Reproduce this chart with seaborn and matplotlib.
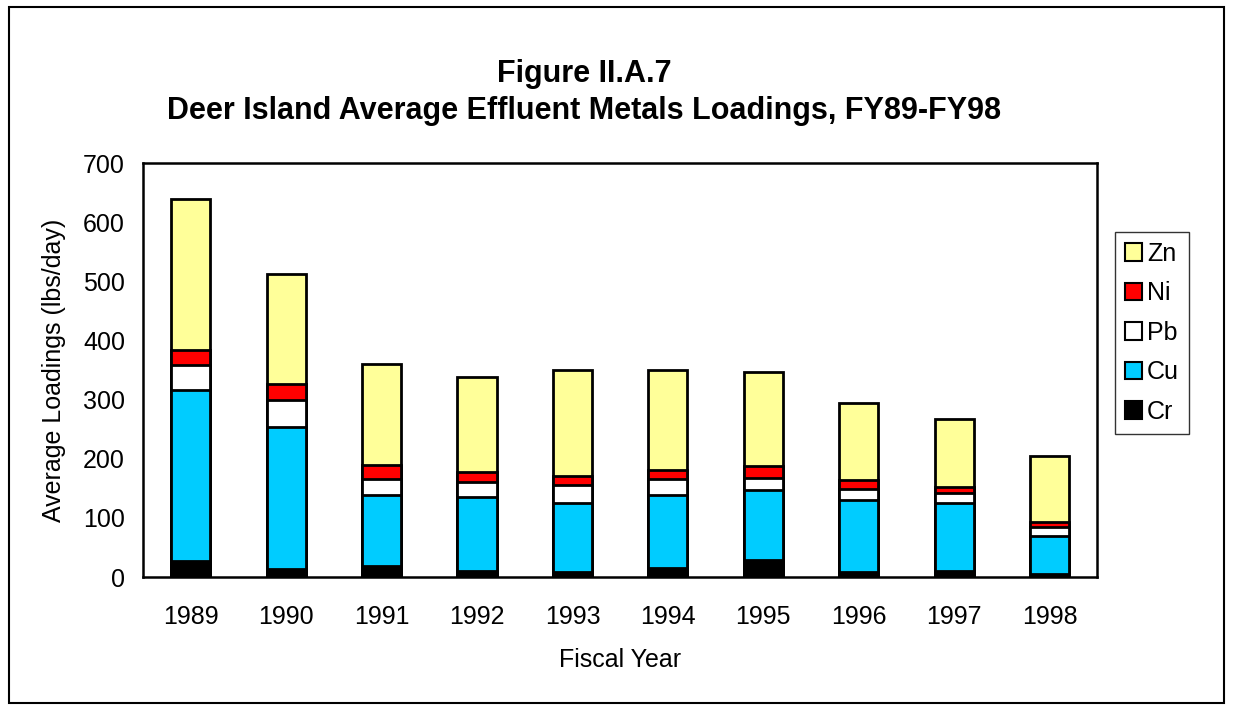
import matplotlib

matplotlib.use("Agg")
import matplotlib.pyplot as plt
import numpy as np
import pandas as pd
import seaborn as sns
from matplotlib.patches import Patch, Rectangle

years = ["1989", "1990", "1991", "1992", "1993", "1994", "1995", "1996", "1997", "1998"]
cr = [28, 13, 19, 11, 8, 16, 29, 9, 11, 6]
cu = [288, 240, 120, 125, 118, 122, 119, 121, 114, 64]
pb = [43, 47, 27, 24, 29, 28, 20, 19, 18, 14]
ni = [25, 27, 24, 18, 16, 15, 20, 15, 9, 9]
zn = [256, 186, 170, 160, 180, 170, 159, 130, 115, 111]

metals = ["Cr", "Cu", "Pb", "Ni", "Zn"]
colors = {"Cr": "#000000", "Cu": "#00CCFF", "Pb": "#FFFFFF", "Ni": "#FF0000", "Zn": "#FFFF99"}

df = pd.DataFrame({"Year": years, "Cr": cr, "Cu": cu, "Pb": pb, "Ni": ni, "Zn": zn})
cum = df[metals].cumsum(axis=1)

sns.set_style("white")
plt.rcParams["font.family"] = ["Liberation Sans", "DejaVu Sans"]
plt.rcParams["text.color"] = "black"
plt.rcParams["axes.labelcolor"] = "black"
plt.rcParams["xtick.color"] = "black"
plt.rcParams["ytick.color"] = "black"

fig = plt.figure(figsize=(12.33, 7.09), dpi=100)
ax = fig.add_axes([0.116, 0.186, 0.774, 0.584])

# draw cumulative totals from the top layer down so each hides the rest
for metal in reversed(metals):
    sns.barplot(x=df["Year"], y=cum[metal], color=colors[metal], saturation=1,
                edgecolor="black", linewidth=2, width=0.41, errorbar=None, ax=ax)

ax.set_xlim(-0.5, len(years) - 0.5)
ax.set_ylim(0, 700)
ax.set_yticks(np.arange(0, 701, 100))
ax.set_xlabel("Fiscal Year", fontsize=18, labelpad=14)
ax.set_ylabel("Average Loadings (lbs/day)", fontsize=18, labelpad=12)
ax.tick_params(axis="y", direction="inout", length=10, width=1.5, labelsize=18, pad=8)
ax.tick_params(axis="x", which="major", length=0, labelsize=18, pad=20)
ax.set_xticks(np.arange(0.5, len(years) - 0.5), minor=True)
ax.tick_params(axis="x", which="minor", direction="in", length=7, width=1.5)
for s in ax.spines.values():
    s.set_color("black")
    s.set_linewidth(1.8)

fig.text(0.474, 0.87, "Figure II.A.7\nDeer Island Average Effluent Metals Loadings, FY89-FY98",
         ha="center", va="center", fontsize=22, fontweight="bold", linespacing=1.3)

handles = [Patch(facecolor=colors[m], edgecolor="black", linewidth=1.5, label=m) for m in reversed(metals)]
leg = fig.legend(handles=handles, loc="upper left", bbox_to_anchor=(0.904, 0.673),
                 fontsize=18, frameon=True, fancybox=False, handlelength=0.7, handleheight=0.7,
                 handletextpad=0.2, labelspacing=0.62, borderpad=0.4, borderaxespad=0)
leg.get_frame().set_edgecolor("black")
leg.get_frame().set_linewidth(1)

fig.patches.append(Rectangle((0.007, 0.009), 0.986, 0.981, transform=fig.transFigure,
                             fill=False, edgecolor="black", linewidth=1.5))

fig.savefig("out.png", dpi=100)
